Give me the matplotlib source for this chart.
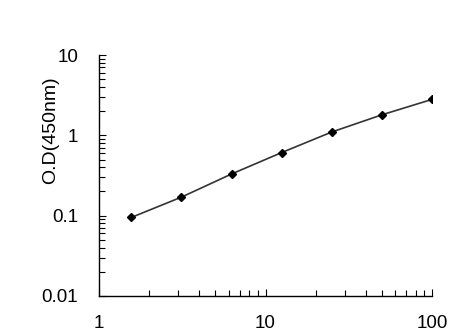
import matplotlib
matplotlib.use("Agg")
import matplotlib.pyplot as plt
from matplotlib.ticker import LogLocator, FixedLocator, NullFormatter

plt.rcParams['font.family'] = ['Liberation Sans', 'DejaVu Sans']

concentration = [1.5625, 3.125, 6.25, 12.5, 25, 50, 100]
od_values = [0.095, 0.17, 0.33, 0.61, 1.1, 1.8, 2.8]
x_ticks = [1, 10, 100]
x_tick_labels = ["1", "10", "100"]
y_ticks = [0.01, 0.1, 1, 10]
y_tick_labels = ["0.01", "0.1", "1", "10"]

fig = plt.figure(figsize=(4.74, 3.35), dpi=100)
ax = fig.add_axes([99/474, 1-296/335, 333/474, 241/335])

ax.plot(concentration, od_values, color='#333333', lw=1.2,
        marker='D', markersize=4, markerfacecolor='black', markeredgecolor='black')

ax.set_xscale('log')
ax.set_yscale('log')
ax.set_xlim(1, 100)
ax.set_ylim(0.01, 10)

ax.xaxis.set_major_locator(FixedLocator(x_ticks))
ax.set_xticklabels(x_tick_labels)
ax.yaxis.set_major_locator(FixedLocator(y_ticks))
ax.set_yticklabels(y_tick_labels)
ax.xaxis.set_minor_locator(LogLocator(base=10, subs=range(2, 10)))
ax.yaxis.set_minor_locator(LogLocator(base=10, subs=range(2, 10)))
ax.xaxis.set_minor_formatter(NullFormatter())
ax.yaxis.set_minor_formatter(NullFormatter())

for s in ['top', 'right']:
    ax.spines[s].set_visible(False)
for s in ['left', 'bottom']:
    ax.spines[s].set_linewidth(1.0)
    ax.spines[s].set_color('black')

ax.tick_params(axis='both', which='both', direction='in', color='black', width=0.8)
ax.tick_params(axis='both', which='major', length=5, labelsize=13.5)
ax.tick_params(axis='both', which='minor', length=4)
ax.tick_params(axis='x', which='major', pad=14)
ax.tick_params(axis='y', which='major', pad=15)

ax.set_ylabel('O.D(450nm)', fontsize=14, va='center', ha='center')
ax.yaxis.set_label_coords(-0.144, 0.689)

fig.savefig('out.png', dpi=100, facecolor='white')
